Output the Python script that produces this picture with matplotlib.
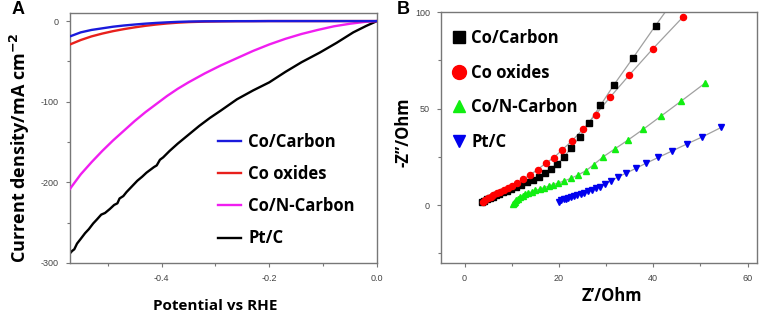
import numpy as np
import matplotlib
matplotlib.use("Agg")
import matplotlib.pyplot as plt
from matplotlib.lines import Line2D

plt.rcParams['axes.unicode_minus'] = False
plt.rcParams['font.family'] = ['Open Sans', 'DejaVu Sans']

# ---- panel A: polarisation curves ----
series_a = ['Co/Carbon', 'Co oxides', 'Co/N-Carbon', 'Pt/C']
colors_a = ['#1a1adc', '#e8201c', '#f01ef0', '#000000']

pot_smooth = [-0.57, -0.55, -0.53, -0.51, -0.49, -0.47, -0.45, -0.43, -0.41, -0.39,
              -0.37, -0.35, -0.32, -0.29, -0.26, -0.23, -0.20, -0.17, -0.14, -0.11,
              -0.08, -0.05, -0.02, 0.0]
co_carbon = [-19, -14, -11, -9, -7, -5.5, -4.3, -3.2, -2.3, -1.6,
             -1.0, -0.6, -0.3, -0.2, -0.1, -0.1, 0, 0, 0, 0, 0, 0, 0, 0]
co_oxides = [-29, -23.5, -19, -15.5, -12.5, -10, -7.8, -5.9, -4.3, -3.0,
             -2.0, -1.3, -0.7, -0.4, -0.2, -0.1, 0, 0, 0, 0, 0, 0, 0, 0]
co_n_carbon = [-208, -190, -175, -161, -148, -136, -124, -113, -103, -93,
               -84, -76, -65, -55, -46, -37, -29, -22, -16, -11,
               -6.5, -3.3, -0.8, 0]

pot_ptc = [-0.570, -0.566, -0.562, -0.557, -0.550, -0.542, -0.535, -0.527, -0.520,
           -0.512, -0.505, -0.496, -0.488, -0.482, -0.478, -0.471, -0.465, -0.455,
           -0.445, -0.436, -0.428, -0.420, -0.414, -0.409, -0.403, -0.397, -0.385,
           -0.370, -0.350, -0.330, -0.310, -0.290, -0.260, -0.230, -0.200, -0.170,
           -0.140, -0.106, -0.075, -0.044, -0.020, 0.0]
ptc = [-288, -285, -283, -276, -270, -263, -258, -251, -246,
       -240, -238, -233, -228, -226, -220, -217, -212, -205,
       -198, -193, -188, -184, -181, -179, -172, -169, -161,
       -152, -141, -130, -120, -111, -97, -86, -76, -63,
       -51, -39, -27, -14, -6, 0]

# ---- panel B: Nyquist plots ----
series_b = ['Co/Carbon', 'Co oxides', 'Co/N-Carbon', 'Pt/C']
colors_b = ['#000000', '#ff0000', '#11ee11', '#0000ee']
markers_b = ['s', 'o', '^', 'v']

zr_cc = [3.6, 4.2, 4.8, 5.4, 6.0, 6.7, 7.4, 8.2, 9.0, 9.9, 10.9, 12.0, 13.2, 14.4,
         15.7, 17.0, 18.3, 19.7, 21.1, 22.6, 24.4, 26.3, 28.8, 31.7, 35.7, 40.5, 45.5]
zi_cc = [1.5, 2.2, 2.9, 3.6, 4.3, 5.0, 5.8, 6.6, 7.5, 8.4, 9.4, 10.5, 11.8, 13.2,
         14.8, 16.6, 18.7, 21.4, 25.0, 29.6, 35.3, 42.3, 51.6, 62.4, 76.2, 93.0, 110.0]

zr_co = [3.8, 4.3, 4.9, 5.5, 6.1, 6.8, 7.5, 8.3, 9.2, 10.1, 11.2, 12.4, 13.8, 15.5,
         17.3, 18.9, 20.6, 22.7, 25.1, 27.8, 30.9, 34.9, 39.9, 46.3]
zi_co = [1.8, 2.7, 3.6, 4.4, 5.2, 6.1, 7.0, 7.9, 9.0, 10.1, 11.6, 13.3, 15.5, 18.4,
         21.9, 24.5, 28.4, 33.1, 39.2, 46.9, 56.0, 67.3, 80.9, 97.4]

zr_cn = [10.2, 10.4, 10.7, 11.0, 11.4, 11.8, 12.3, 12.9, 13.5, 14.2, 15.0, 15.9, 16.8,
         17.8, 18.8, 19.9, 21.1, 22.5, 24.0, 25.8, 27.4, 29.4, 31.8, 34.6, 37.9, 41.6,
         45.9, 50.9]
zi_cn = [0.3, 1.0, 1.8, 2.6, 3.4, 4.1, 4.8, 5.5, 6.2, 6.9, 7.6, 8.3, 9.0,
         9.8, 10.6, 11.5, 12.5, 13.8, 15.5, 17.9, 21.0, 25.0, 29.0, 33.6, 39.3, 46.0,
         53.8, 63.0]

zr_pt = [20.1, 20.5, 21.0, 21.5, 22.0, 22.6, 23.2, 23.9, 24.6, 25.4, 26.2, 27.0, 27.9,
         28.8, 29.7, 31.1, 32.5, 34.3, 36.3, 38.5, 41.1, 43.9, 47.1, 50.4, 54.4]
zi_pt = [1.8, 2.4, 2.9, 3.4, 3.9, 4.4, 4.9, 5.4, 5.9, 6.5, 7.1, 7.8, 8.6,
         9.6, 10.8, 12.6, 14.5, 16.6, 19.0, 21.7, 24.7, 27.9, 31.6, 35.3, 40.2]

TICK_FONT = dict(family='Liberation Sans', size=6.5, color='#444444')
SPINE_COLOR = '#777777'
LEG_PROP = dict(family=['Open Sans', 'DejaVu Sans'], size=12, weight='bold')

fig = plt.figure(figsize=(7.65, 3.21), dpi=100)
ax_a = fig.add_axes([0.0915, 0.1807, 0.4013, 0.7788])
ax_b = fig.add_axes([0.5765, 0.1807, 0.4130, 0.7819])

# panel A
ys_a = [co_carbon, co_oxides, co_n_carbon]
for name, col, ys, z in zip(series_a[:3], colors_a[:3], ys_a, [5, 4, 3]):
    ax_a.plot(pot_smooth, ys, color=col, lw=1.7, zorder=z, label=name)
ax_a.plot(pot_ptc, ptc, color=colors_a[3], lw=1.7, zorder=2, label=series_a[3])
ax_a.set_xlim(-0.57, 0.0)
ax_a.set_ylim(-300, 10)
ax_a.set_xticks([-0.4, -0.2, 0.0])
ax_a.set_xticks([-0.5, -0.3, -0.1], minor=True)
ax_a.set_yticks([-300, -200, -100, 0])
ax_a.set_yticks([-250, -150, -50], minor=True)
ax_a.set_xticklabels(['-0.4', '-0.2', '0.0'], **TICK_FONT)
ax_a.set_yticklabels(['-300', '-200', '-100', '0'], **TICK_FONT)
ax_a.set_xlabel('Potential vs RHE', size=11, fontweight='bold')
ax_a.set_ylabel(r'Current density/mA cm$^{\mathbf{-2}}$', size=13, fontweight='bold')
ax_a.xaxis.set_label_coords(0.472, -0.145)
ax_a.yaxis.set_label_coords(-0.124, 0.46)
handles, labels = ax_a.get_legend_handles_labels()
ax_a.legend(handles, labels, loc='upper left', bbox_to_anchor=(218 / 765, 1 - 133 / 321),
            bbox_transform=fig.transFigure, frameon=False, borderpad=0, borderaxespad=0,
            handlelength=1.35, handletextpad=0.45, labelspacing=0.85, prop=LEG_PROP)

# panel B
xs_b = [zr_cc, zr_co, zr_cn, zr_pt]
ys_b = [zi_cc, zi_co, zi_cn, zi_pt]
leg_handles = []
for name, col, mk, xs, ys in zip(series_b, colors_b, markers_b, xs_b, ys_b):
    ax_b.plot(xs, ys, color='#a0a0a0', lw=0.9, zorder=2)
    ax_b.plot(xs, ys, linestyle='none', marker=mk, color=col, ms=4.4, zorder=3)
    leg_handles.append(Line2D([], [], linestyle='none', marker=mk, color=col,
                              ms=10 if mk == 'o' else 8.5, label=name))
ax_b.set_xlim(-5, 62)
ax_b.set_ylim(-30, 100)
ax_b.set_xticks([0, 20, 40, 60])
ax_b.set_xticks([10, 30, 50], minor=True)
ax_b.set_yticks([0, 50, 100])
ax_b.set_yticks([-25, 25, 75], minor=True)
ax_b.set_xticklabels(['0', '20', '40', '60'], **TICK_FONT)
ax_b.set_yticklabels(['0', '50', '100'], **TICK_FONT)
ax_b.set_xlabel('Z\u2019/Ohm', size=12, fontweight='bold')
ax_b.set_ylabel('-Z\u2019\u2019/Ohm', size=12, fontweight='bold')
ax_b.xaxis.set_label_coords(0.541, -0.096)
ax_b.yaxis.set_label_coords(-0.089, 0.522)
ax_b.legend(handles=leg_handles, loc='upper left', bbox_to_anchor=(452 / 765, 1 - 29 / 321),
            bbox_transform=fig.transFigure, frameon=False, borderpad=0, borderaxespad=0,
            handlelength=0.8, handletextpad=0.35, labelspacing=1.0, prop=LEG_PROP)

for ax in (ax_a, ax_b):
    for sp in ax.spines.values():
        sp.set_color(SPINE_COLOR)
        sp.set_linewidth(1.0)
    ax.tick_params(which='major', direction='out', length=3, width=0.8,
                   color=SPINE_COLOR, pad=5)
    ax.tick_params(which='minor', direction='out', length=2, width=0.8,
                   color=SPINE_COLOR)

fig.text(12 / 765, 1 - 9 / 321, 'A', fontsize=13, fontweight='bold',
         family='Liberation Sans', va='center', ha='left')
fig.text(397 / 765, 1 - 9 / 321, 'B', fontsize=13, fontweight='bold',
         family='Liberation Sans', va='center', ha='left')

fig.savefig('out.png', dpi=100)
